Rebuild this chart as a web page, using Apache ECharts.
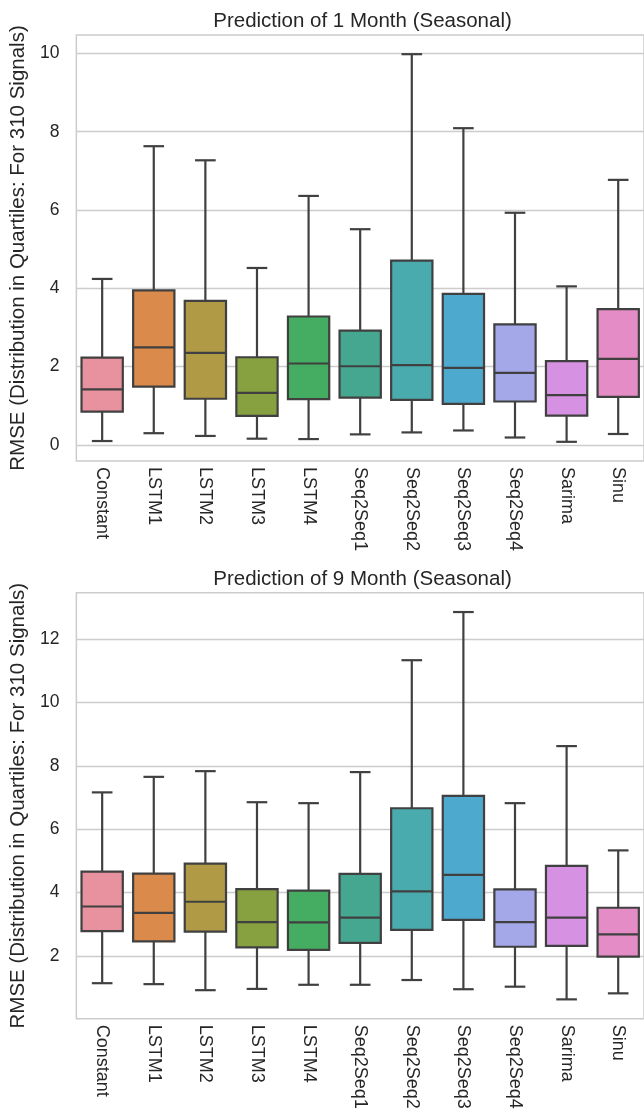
<!DOCTYPE html>
<html>
<head>
<meta charset="utf-8">
<script src="https://cdn.jsdelivr.net/npm/echarts@6/dist/echarts.min.js"></script>
<style>
html,body{margin:0;padding:0;background:#fff;}
#chart{width:644px;height:1118px;}
</style>
</head>
<body>
<div id="chart"></div>
<script>
const categories = ['Constant','LSTM1','LSTM2','LSTM3','LSTM4','Seq2Seq1','Seq2Seq2','Seq2Seq3','Seq2Seq4','Sarima','Sinu'];
const palette = ['#e8929f','#da8b4b','#b09a45','#87a040','#45ad62','#46a790','#4aabaf','#4ea9cf','#a5a8e8','#d691e3','#e48cc5'];

// Prediction of 1 Month
const m1Low    = [0.10, 0.30, 0.23, 0.16, 0.15, 0.27, 0.32, 0.37, 0.19, 0.08, 0.28];
const m1Q1     = [0.85, 1.49, 1.18, 0.74, 1.17, 1.21, 1.15, 1.05, 1.11, 0.75, 1.23];
const m1Median = [1.42, 2.49, 2.35, 1.33, 2.08, 2.01, 2.04, 1.97, 1.84, 1.27, 2.20];
const m1Q3     = [2.23, 3.95, 3.68, 2.24, 3.28, 2.92, 4.71, 3.86, 3.08, 2.14, 3.47];
const m1High   = [4.24, 7.63, 7.27, 4.52, 6.36, 5.51, 9.98, 8.09, 5.93, 4.05, 6.77];
const m1Ticks  = [0, 2, 4, 6, 8, 10];

// Prediction of 9 Month
const m9Low    = [1.14, 1.11, 0.92, 0.96, 1.09, 1.09, 1.24, 0.95, 1.03, 0.63, 0.82];
const m9Q1     = [2.78, 2.46, 2.77, 2.27, 2.19, 2.41, 2.82, 3.14, 2.29, 2.32, 1.98];
const m9Median = [3.56, 3.36, 3.71, 3.07, 3.06, 3.21, 4.04, 4.56, 3.07, 3.21, 2.68];
const m9Q3     = [4.66, 4.60, 4.91, 4.11, 4.06, 4.59, 6.66, 7.05, 4.10, 4.84, 3.52];
const m9High   = [7.16, 7.65, 7.83, 6.85, 6.82, 7.80, 11.33, 12.85, 6.82, 8.62, 5.33];
const m9Ticks  = [2, 4, 6, 8, 10, 12];

const titles = ['Prediction of 1 Month (Seasonal)', 'Prediction of 9 Month (Seasonal)'];
const yName = 'RMSE (Distribution in Quartiles: For 310 Signals)';

const FONT = '"Liberation Sans", Arial, sans-serif';
const TEXT = '#262626';
const EDGE = '#404040';

function rows(lo, q1, md, q3, hi) {
  return categories.map((c, i) => [i, lo[i], q1[i], md[i], q3[i], hi[i]]);
}

function renderBox(params, api) {
  const idx = api.value(0);
  const lo = api.coord([idx, api.value(1)]);
  const q1 = api.coord([idx, api.value(2)]);
  const md = api.coord([idx, api.value(3)]);
  const q3 = api.coord([idx, api.value(4)]);
  const hi = api.coord([idx, api.value(5)]);
  const band = api.size([1, 0])[0];
  const half = band * 0.4;
  const cap = band * 0.2;
  const x = lo[0];
  const ls = {stroke: EDGE, lineWidth: 2.2};
  return {
    type: 'group',
    children: [
      {type: 'line', shape: {x1: x, y1: lo[1], x2: x, y2: q1[1]}, style: ls},
      {type: 'line', shape: {x1: x, y1: q3[1], x2: x, y2: hi[1]}, style: ls},
      {type: 'line', shape: {x1: x - cap, y1: lo[1], x2: x + cap, y2: lo[1]}, style: ls},
      {type: 'line', shape: {x1: x - cap, y1: hi[1], x2: x + cap, y2: hi[1]}, style: ls},
      {type: 'rect', shape: {x: x - half, y: q3[1], width: half * 2, height: q1[1] - q3[1]},
        style: {fill: palette[idx], stroke: EDGE, lineWidth: 2.2}},
      {type: 'line', shape: {x1: x - half, y1: md[1], x2: x + half, y2: md[1]}, style: ls}
    ]
  };
}

const grids = [
  {left: 75.5, width: 572, top: 35, height: 426},
  {left: 75.5, width: 572, top: 592.7, height: 426}
];
const yRanges = [[-0.41, 10.47], [0.02, 13.46]];
const tickSets = [m1Ticks, m9Ticks];
const dataSets = [rows(m1Low, m1Q1, m1Median, m1Q3, m1High), rows(m9Low, m9Q1, m9Median, m9Q3, m9High)];

const option = {
  backgroundColor: '#ffffff',
  animation: false,
  title: titles.map((t, i) => ({
    text: t,
    left: 357.5,
    textAlign: 'center',
    top: i === 0 ? 6 : 564,
    textStyle: {fontFamily: FONT, fontSize: 20.5, fontWeight: 'normal', color: TEXT}
  })),
  grid: grids.map(g => Object.assign({show: true, borderColor: '#cccccc', borderWidth: 1.5, backgroundColor: 'transparent'}, g)),
  xAxis: grids.map((g, i) => ({
    type: 'category',
    gridIndex: i,
    data: categories,
    boundaryGap: true,
    axisLine: {show: false},
    axisTick: {show: false},
    splitLine: {show: false},
    axisLabel: {rotate: -90, margin: 6, fontFamily: FONT, fontSize: 18, color: TEXT, interval: 0}
  })),
  yAxis: grids.map((g, i) => ({
    type: 'value',
    gridIndex: i,
    min: yRanges[i][0],
    max: yRanges[i][1],
    name: yName,
    nameLocation: 'middle',
    nameGap: 40,
    nameTextStyle: {fontFamily: FONT, fontSize: 20.5, color: TEXT},
    axisLine: {show: false},
    axisTick: {show: false, customValues: tickSets[i]},
    axisLabel: {customValues: tickSets[i], margin: 17, fontFamily: FONT, fontSize: 17.5, color: TEXT},
    splitLine: {show: true, lineStyle: {color: '#cccccc', width: 1.3}}
  })),
  series: dataSets.map((d, i) => ({
    type: 'custom',
    xAxisIndex: i,
    yAxisIndex: i,
    renderItem: renderBox,
    encode: {x: 0, y: [1, 2, 3, 4, 5]},
    data: d
  }))
};

const chart = echarts.init(document.getElementById('chart'), null, {renderer: 'canvas'});
chart.setOption(option);
</script>
</body>
</html>
